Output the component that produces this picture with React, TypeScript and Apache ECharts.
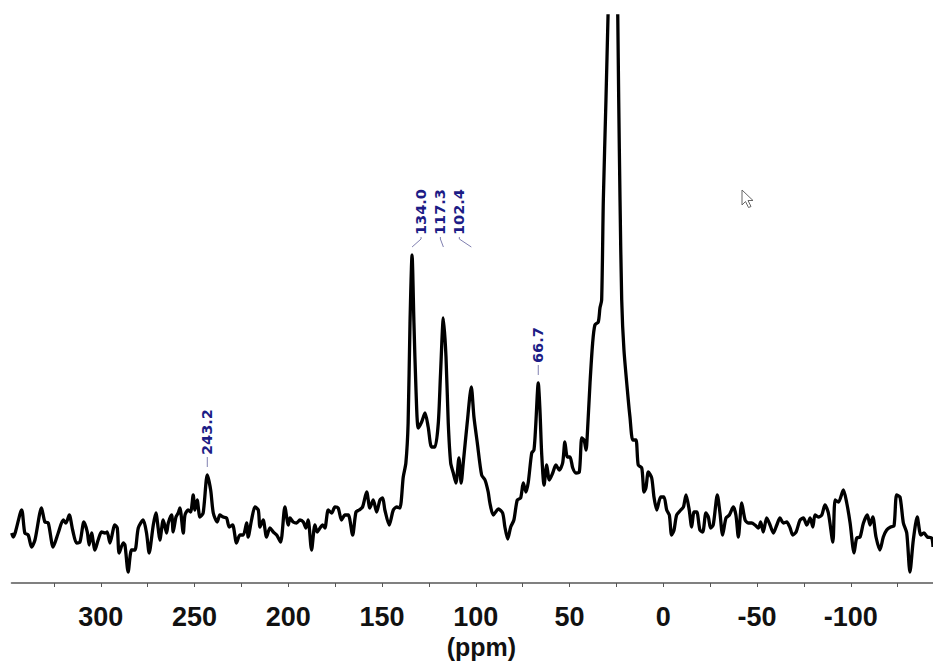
import React, { useEffect, useRef } from "react";
import * as echarts from "echarts";

// Chemical shift (ppm) / intensity (arbitrary units)
const baselineHigh: [number, number][] = [
  [347.5, 50], [346.7, 46], [342.2, 73], [340.5, 50], [338.7, 48], [336.9, 36], [335.1, 43], [331.6, 75], [329.8, 61], [328.0, 60],
  [325.4, 36], [322.7, 50], [320.0, 63], [318.6, 60], [316.8, 68], [315.0, 53], [312.9, 40], [311.1, 41], [309.0, 61], [307.2, 51],
  [306.2, 38], [304.9, 50], [303.1, 33], [301.4, 43], [299.6, 51], [297.8, 50], [296.6, 51], [295.1, 40], [292.5, 58], [291.2, 55],
  [290.2, 30], [288.0, 40], [287.1, 38], [285.4, 11], [283.6, 33], [281.8, 33], [280.0, 55], [277.4, 63], [275.6, 50], [274.2, 30],
  [272.0, 58], [270.6, 70], [269.4, 55], [268.5, 43], [266.7, 63], [264.9, 50], [264.0, 60], [262.2, 68], [261.4, 51], [259.9, 66],
  [258.7, 70], [257.8, 75], [256.0, 50], [255.1, 68], [253.4, 73], [252.1, 71], [250.7, 88], [249.8, 73], [248.6, 83], [247.1, 66],
  [245.4, 70], [243.2, 108], [241.4, 93], [240.0, 70], [237.9, 61], [236.5, 68], [234.7, 66], [232.9, 65], [231.5, 56], [229.7, 58],
  [227.6, 40], [225.8, 48], [224.0, 48], [222.2, 60], [221.4, 46], [219.6, 63], [217.8, 76], [216.0, 73], [215.1, 56], [213.4, 63],
  [211.6, 46], [209.8, 55], [208.0, 51], [206.2, 48], [204.1, 41], [201.8, 76], [200.0, 58], [199.1, 65], [197.4, 61], [195.6, 60],
  [193.8, 63], [192.0, 61], [190.6, 55], [189.4, 63], [187.6, 33], [185.8, 58], [184.6, 51], [183.1, 55], [181.7, 58], [180.5, 55],
  [178.7, 73], [176.9, 70], [175.1, 76], [173.4, 75], [171.6, 63], [169.8, 68], [168.0, 68], [165.7, 48], [163.9, 71], [162.2, 73],
  [160.4, 76], [158.2, 91], [156.5, 75], [154.7, 83], [152.9, 71], [151.1, 83], [149.7, 85], [148.5, 73], [146.2, 58], [144.0, 73],
  [142.2, 76], [140.5, 75],
];

const aromatic: [number, number][] = [
  [138.7, 106], [137.3, 120], [136.1, 160], [135.1, 260], [134.0, 328], [133.0, 260], [131.9, 193], [130.7, 155], [128.9, 161], [127.1, 170],
  [125.4, 156], [123.6, 136], [121.8, 136], [120.0, 160], [118.8, 210], [117.3, 265], [115.9, 226], [114.7, 160], [113.4, 120], [112.0, 110],
  [110.6, 100], [109.0, 125], [107.8, 100], [106.7, 120], [104.6, 160], [102.4, 196], [101.0, 166], [99.2, 140], [96.9, 108], [95.1, 103],
  [93.4, 91], [92.5, 80], [90.7, 68], [88.0, 74], [85.7, 70], [84.5, 56], [83.0, 44], [81.4, 56],
];

const aliphatic: [number, number][] = [
  [79.7, 63], [77.9, 83], [76.1, 85], [74.7, 100], [73.3, 91], [72.0, 101], [70.2, 130], [69.0, 133], [68.1, 156], [66.7, 200],
  [65.8, 173], [64.9, 130], [63.6, 98], [62.2, 118], [60.8, 103], [59.0, 110], [57.3, 118], [55.5, 113], [53.7, 120], [52.5, 141],
  [51.2, 126], [49.8, 126], [48.3, 115], [46.6, 110], [44.8, 111], [43.5, 145], [42.3, 143], [41.2, 133], [40.5, 150], [39.1, 200],
  [37.7, 240], [36.5, 258], [34.7, 261], [33.8, 275], [32.9, 283], [32.0, 383], [30.6, 483], [29.5, 567], [26.0, 830], [24.3, 567],
  [23.8, 483], [23.1, 383], [22.2, 283], [21.0, 233], [18.7, 183], [17.8, 166], [16.3, 143], [14.6, 143], [13.4, 118], [11.5, 115],
  [10.3, 91], [9.3, 95], [8.0, 111], [6.2, 105], [5.0, 86], [3.5, 73], [1.4, 86], [-0.3, 86], [-1.8, 73], [-3.2, 68],
  [-4.4, 48], [-5.7, 53],
];

const baselineLow: [number, number][] = [
  [-7.1, 68], [-9.3, 73], [-10.7, 76], [-12.1, 88], [-13.8, 73], [-15.1, 56], [-16.4, 71], [-17.8, 71], [-19.5, 53], [-21.0, 51],
  [-22.7, 70], [-24.0, 66], [-25.2, 55], [-26.6, 58], [-28.8, 88], [-30.2, 70], [-31.6, 48], [-33.4, 65], [-35.2, 68], [-37.3, 76],
  [-38.7, 68], [-40.0, 46], [-41.8, 80], [-43.6, 63], [-45.3, 60], [-47.1, 60], [-48.9, 58], [-50.7, 55], [-51.9, 61], [-53.3, 51],
  [-55.1, 65], [-56.9, 58], [-58.7, 50], [-60.5, 58], [-62.2, 65], [-64.0, 60], [-65.8, 61], [-67.6, 55], [-69.0, 48], [-70.8, 51],
  [-72.9, 63], [-74.7, 65], [-76.5, 58], [-78.3, 65], [-79.7, 56], [-80.9, 68], [-82.7, 66], [-84.5, 68], [-86.2, 78], [-88.0, 70],
  [-90.4, 41], [-91.6, 83], [-93.4, 81], [-96.0, 93], [-97.8, 80], [-99.6, 60], [-101.7, 30], [-103.1, 45], [-104.9, 46], [-106.7, 60],
  [-108.8, 68], [-110.2, 58], [-111.7, 66], [-113.4, 46], [-115.5, 33], [-117.3, 46], [-119.1, 53], [-121.2, 56], [-123.0, 57], [-124.4, 88],
  [-126.2, 86], [-128.0, 60], [-129.8, 50], [-131.5, 11], [-133.3, 43], [-135.4, 66], [-137.3, 48], [-139.0, 50], [-140.8, 46], [-143.1, 45],
  [-143.8, 36],
];

const peakShifts = [243.2, 134.0, 117.3, 102.4, 66.7];
const peakLabels = ["243.2", "134.0", "117.3", "102.4", "66.7"];

const tickLabelValues = [300, 250, 200, 150, 100, 50, 0, -50, -100];
const tickValues = [325, 300, 275, 250, 225, 200, 175, 150, 125, 100, 75, 50, 25, 0, -25, -50, -75, -100, -125];

const X_MIN = -143.8;
const X_MAX = 347.5;
const Y_MAX = 567;

// layout of the peak labels (pixel offsets, anchor peak for grouped labels)
const LABEL_LAYOUT = [
  { dx: 0, anchor: 0 },
  { dx: 9, anchor: 1 },
  { dx: -3, anchor: 1 },
  { dx: -12, anchor: 1 },
  { dx: 0, anchor: 4 },
];

export default function App() {
  const ref = useRef<HTMLDivElement>(null);

  useEffect(() => {
    if (!ref.current) return;
    const chart = echarts.init(ref.current, null, { renderer: "svg" });

    const spectrum = [...baselineHigh, ...aromatic, ...aliphatic, ...baselineLow];
    const heightAt = (ppm: number) => {
      let best = spectrum[0];
      for (const pt of spectrum) if (Math.abs(pt[0] - ppm) < Math.abs(best[0] - ppm)) best = pt;
      return best[1];
    };
    const peakData = peakShifts.map((p) => [p, heightAt(p)]);

    chart.setOption({
      animation: false,
      grid: {
        left: 11.7,
        right: 0,
        top: 16,
        bottom: 79,
        containLabel: false,
        outerBoundsMode: "none",
      },
      xAxis: {
        type: "value",
        inverse: true,
        min: X_MIN,
        max: X_MAX,
        name: "(ppm)",
        nameLocation: "middle",
        nameGap: 47,
        nameTextStyle: {
          fontFamily: "'Liberation Sans Narrow', 'Liberation Sans', Arial, sans-serif",
          fontWeight: "bold",
          fontSize: 25,
          color: "#111",
          padding: [0, 0, 0, 18],
        },
        axisLine: { show: true, onZero: false, lineStyle: { color: "#808080", width: 2 } },
        axisTick: {
          show: true,
          inside: false,
          length: 4,
          customValues: tickValues,
          lineStyle: { color: "#555", width: 1 },
        },
        axisLabel: {
          customValues: tickLabelValues,
          margin: 20,
          fontFamily: "'Liberation Sans Narrow', 'Liberation Sans', Arial, sans-serif",
          fontWeight: "bold",
          fontSize: 27,
          color: "#111",
        },
        splitLine: { show: false },
      },
      yAxis: {
        type: "value",
        min: 0,
        max: Y_MAX,
        show: false,
        splitLine: { show: false },
      },
      series: [
        {
          type: "line",
          data: spectrum,
          showSymbol: false,
          symbol: "none",
          smooth: 0.25,
          clip: true,
          lineStyle: { color: "#000", width: 3.3, join: "round" },
          z: 2,
        },
        {
          type: "custom",
          data: peakData,
          clip: false,
          z: 3,
          renderItem: (params: any, api: any) => {
            const i = params.dataIndex;
            const lay = LABEL_LAYOUT[i];
            const p = api.coord([api.value(0), api.value(1)]);
            const a = api.coord([peakShifts[lay.anchor], peakData[lay.anchor][1]]);
            const baseY = a[1] - 8;
            const lx = p[0] + lay.dx;
            const pts =
              lay.dx === 0
                ? [[p[0], baseY], [p[0], baseY - 10]]
                : [[p[0], baseY], [lx, baseY - 8], [lx, baseY - 10]];
            return {
              type: "group",
              children: [
                {
                  type: "polyline",
                  shape: { points: pts },
                  style: { stroke: "#8080b0", lineWidth: 1, fill: null },
                },
                {
                  type: "text",
                  x: lx,
                  y: baseY - 12,
                  rotation: Math.PI / 2,
                  style: {
                    text: peakLabels[i],
                    fill: "#1c1c86",
                    font: "bold 14.5px 'DejaVu Sans', sans-serif",
                    align: "left",
                    verticalAlign: "middle",
                  },
                },
              ],
            };
          },
        },
      ],
      graphic: [
        {
          type: "polygon",
          shape: {
            points: [
              [742, 190], [742, 205], [745.5, 201.5], [748.5, 207.5], [751, 206.5], [748, 200.5], [753, 200.5],
            ],
          },
          style: { fill: "#fff", stroke: "#666", lineWidth: 1 },
          z: 10,
        },
      ],
    });

    return () => chart.dispose();
  }, []);

  return (
    <div
      ref={ref}
      style={{ position: "fixed", left: 0, top: 0, width: 933, height: 662, background: "#fff" }}
    />
  );
}
